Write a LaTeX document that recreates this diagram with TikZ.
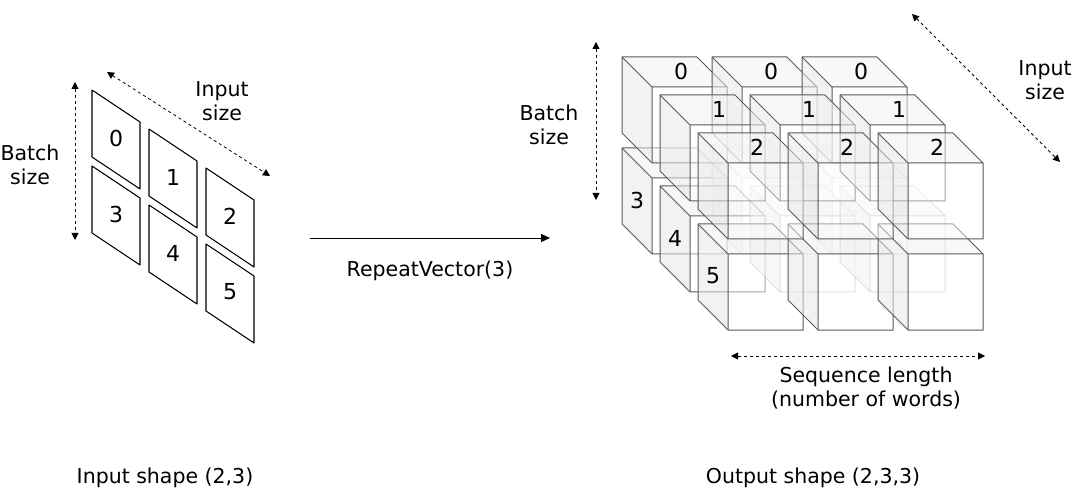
\documentclass[tikz,border=0pt]{standalone}
\usepackage{fontspec}
\setmainfont{DejaVu Sans}
\usetikzlibrary{arrows.meta}
\begin{document}
\begin{tikzpicture}[x=1pt,y=-1pt,
  lbl/.style={font=\fontsize{20.5}{24}\selectfont,align=center,inner sep=0},
  num/.style={font=\fontsize{22}{24}\selectfont,inner sep=0},
  dim/.style={dashed,thick,{Triangle[length=7,width=7]}-{Triangle[length=7,width=7]}},
  tile/.style={draw,line width=1.1pt,line join=round},
  cube/.style={draw=black!65,line width=1pt,line join=round}]
\useasboundingbox (0,0) rectangle (1076,494);
% left tiles
\foreach \r in {0,1}{\foreach \c in {0,1,2}{
  \pgfmathsetmacro\x{92+57*\c}\pgfmathsetmacro\y{90+39*\c+76*\r}
  \pgfmathtruncatemacro\n{3*\r+\c}
  \draw[tile] (\x,\y) -- ++(48,32) -- ++(0,67) -- ++(-48,-32) -- cycle;
  \node[num] (t\n) at (\x+24,\y+48) {\n};
}}
\coordinate (bs1) at (75,82); \coordinate (bs2) at (75,240);
\draw[dim] (bs1) -- (bs2);
\coordinate (is1) at (107,72); \coordinate (is2) at (270,176);
\draw[dim] (is1) -- (is2);
\node[lbl] (lb) at (30,165) {Batch\\size};
\node[lbl] (li) at (222,101) {Input\\size};
\node[lbl] (ls) at (165,478) {Input shape (2,3)};
% main arrow
\coordinate (ma1) at (310,238); \coordinate (ma2) at (550,238);
\draw[thick,-{Triangle[length=9,width=8]}] (ma1) -- (ma2);
\node[lbl] (rv) at (430,271) {RepeatVector(3)};
% cubes
\newcommand\mycube[3]{% x y opacity
  \begin{scope}[cube,draw opacity=#3]
  \fill[black!5,fill opacity=0.55] (#1,#2) -- ++(75,0) -- ++(30,30) -- ++(-75,0) -- cycle;
  \fill[black!9,fill opacity=0.55] (#1,#2) -- ++(30,30) -- ++(0,76) -- ++(-30,-30) -- cycle;
  \fill[white,fill opacity=0.45] (#1+30,#2+30) rectangle ++(75,76);
  \draw (#1,#2) -- ++(75,0) -- ++(30,30) -- ++(0,76) -- ++(-75,0) -- ++(-30,-30) -- cycle;
  \draw (#1,#2) -- ++(30,30) -- ++(75,0) (#1+30,#2+30) -- ++(0,76);
  \end{scope}}
\foreach \d in {0,1,2}{
  \foreach \c in {0,1,2}{
    \pgfmathsetmacro\x{622+90*\c+38*\d}\pgfmathsetmacro\y{57+91+38*\d}
    \pgfmathsetmacro\op{(\c==0 || \d==2) ? 1 : 0.3}
    \mycube{\x}{\y}{\op}
  }
  \foreach \c in {0,1,2}{
    \pgfmathsetmacro\x{622+90*\c+38*\d}\pgfmathsetmacro\y{57+38*\d}
    \mycube{\x}{\y}{1}
    \node[num] (c\d\c) at (\x+59,\y+14) {\d};
  }
  \pgfmathsetmacro\x{622+38*\d}\pgfmathsetmacro\y{57+91+38*\d}
  \pgfmathtruncatemacro\n{3+\d}
  \node[num] (b\d) at (\x+15,\y+52) {\n};
}
\coordinate (rb1) at (596,42); \coordinate (rb2) at (596,200);
\draw[dim] (rb1) -- (rb2);
\coordinate (ri1) at (912,14); \coordinate (ri2) at (1060,162);
\draw[dim] (ri1) -- (ri2);
\coordinate (sl1) at (731,356); \coordinate (sl2) at (985,356);
\draw[dim] (sl1) -- (sl2);
\node[lbl] (rb) at (549,125) {Batch\\size};
\node[lbl] (ri) at (1045,80) {Input\\size};
\node[lbl] (sl) at (866,388) {Sequence length\\(number of words)};
\node[lbl] (os) at (813,478) {Output shape (2,3,3)};
\end{tikzpicture}
\end{document}
